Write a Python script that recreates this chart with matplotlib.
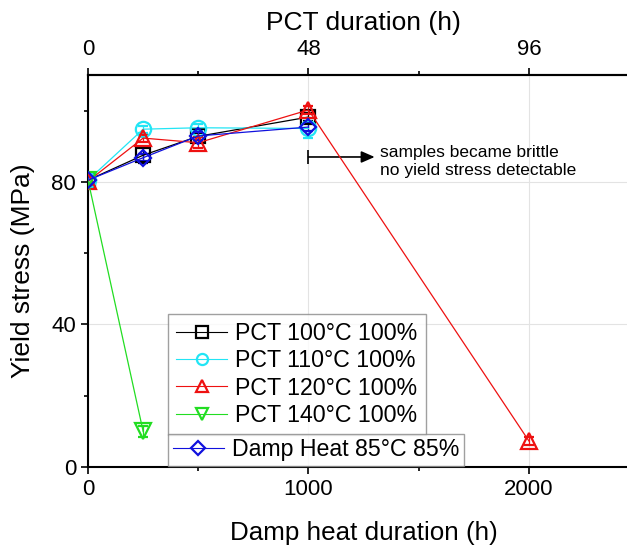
import numpy as np
import matplotlib.pyplot as plt
from matplotlib.lines import Line2D

plt.rcParams['font.family'] = ['Liberation Sans', 'DejaVu Sans']

# damp heat equivalent hours (48 h PCT = 1000 h damp heat)
x_pct100 = [0, 250, 500, 1000]
y_pct100 = [80.5, 87.5, 92.8, 98.2]
e_pct100 = [1.0, 2.2, 1.0, 1.2]

x_pct110 = [0, 250, 500, 1000]
y_pct110 = [80.5, 94.8, 95.2, 95.0]
e_pct110 = [1.0, 1.0, 1.0, 2.8]

x_pct120 = [0, 250, 500, 1000, 2000]
y_pct120 = [80.2, 92.3, 91.0, 100.2, 7.3]
e_pct120 = [1.0, 1.0, 1.5, 1.0, 1.0]

x_pct140 = [0, 250]
y_pct140 = [80.5, 10.0]
e_pct140 = [1.0, 1.5]

x_dh = [0, 250, 500, 1000]
y_dh = [80.5, 86.8, 92.9, 95.4]
e_dh = [1.0, 1.0, 1.0, 1.0]

top_ticks = [0, 48, 96]

fig = plt.figure(figsize=(6.27, 5.48), dpi=100)
ax = fig.add_axes([0.1404, 0.1478, 0.879, 0.7153])

series = [
    (x_pct100, y_pct100, e_pct100, 'black', 's', 10, 'PCT 100°C 100%'),
    (x_pct110, y_pct110, e_pct110, '#22e5f5', 'o', 11, 'PCT 110°C 100%'),
    (x_pct120, y_pct120, e_pct120, '#ee1111', '^', 12, 'PCT 120°C 100%'),
    (x_pct140, y_pct140, e_pct140, '#22dd22', 'v', 12, 'PCT 140°C 100%'),
    (x_dh, y_dh, e_dh, '#1111dd', 'D', 8, 'Damp Heat 85°C 85%'),
]

handles = []
for xs, ys, es, c, m, ms, lab in series:
    ax.errorbar(xs, ys, yerr=es, color=c, marker=m, ms=ms, mfc='none',
                mec=c, mew=1.6, lw=0.9, capsize=3.5, elinewidth=0.9, zorder=3)
    handles.append(Line2D([], [], color=c, lw=0.8, marker=m, ms=8 if m != 'D' else 7,
                          mfc='none', mec=c, mew=1.6, label=lab))

ax.set_xlim(0, 2500)
ax.set_ylim(0, 110)
ax.set_xticks([0, 1000, 2000])
ax.set_xticks([500, 1500], minor=True)
ax.set_yticks([0, 40, 80])
ax.set_yticks([20, 60, 100], minor=True)
ax.grid(True, which='major', color='#e3e3e3', lw=0.8, zorder=0)
ax.tick_params(labelsize=16, width=1.2, length=5)
ax.tick_params(which='minor', width=1.2, length=3)
for s in ['left', 'bottom', 'top']:
    ax.spines[s].set_linewidth(1.5)
ax.spines['right'].set_visible(False)
ax.set_xlabel('Damp heat duration (h)', fontsize=18.7, labelpad=15)
ax.set_ylabel('Yield stress (MPa)', fontsize=19, labelpad=12)

top = ax.secondary_xaxis('top', functions=(lambda v: v * 48 / 1000, lambda v: v * 1000 / 48))
top.set_xticks(top_ticks)
top.set_xticks([24, 72], minor=True)
top.tick_params(labelsize=16, width=1.2, length=5, pad=6)
top.tick_params(which='minor', width=1.2, length=3)
top.set_xlabel('PCT duration (h)', fontsize=19, labelpad=6)
top.spines['top'].set_linewidth(1.5)

# arrow: samples became brittle after 48 h PCT
ax.annotate('', xy=(1300, 87), xytext=(1000, 87),
            arrowprops=dict(arrowstyle='-|>,head_length=0.8,head_width=0.35',
                            color='black', lw=1.2, shrinkA=0, shrinkB=0))
ax.vlines(1000, 85, 89, color='black', lw=1.2)
ax.text(1325, 85.6, 'samples became brittle\nno yield stress detectable',
        fontsize=12.5, va='center', ha='left', linespacing=1.25)

leg1 = ax.legend(handles=handles[:4], loc='lower left', bbox_to_anchor=(0.145, 0.082),
                 fontsize=16.7, frameon=True, fancybox=False, edgecolor='#888888',
                 handlelength=2.2, handletextpad=0.35, borderpad=0.35, labelspacing=0.18,
                 borderaxespad=0)
leg1.get_frame().set_linewidth(1.0)
ax.add_artist(leg1)
leg2 = ax.legend(handles=handles[4:], loc='lower left', bbox_to_anchor=(0.145, 0.003),
                 fontsize=16.7, frameon=True, fancybox=False, edgecolor='#888888',
                 handlelength=2.2, handletextpad=0.35, borderpad=0.2, borderaxespad=0)
leg2.get_frame().set_linewidth(1.0)

fig.savefig('out.png', dpi=100)
